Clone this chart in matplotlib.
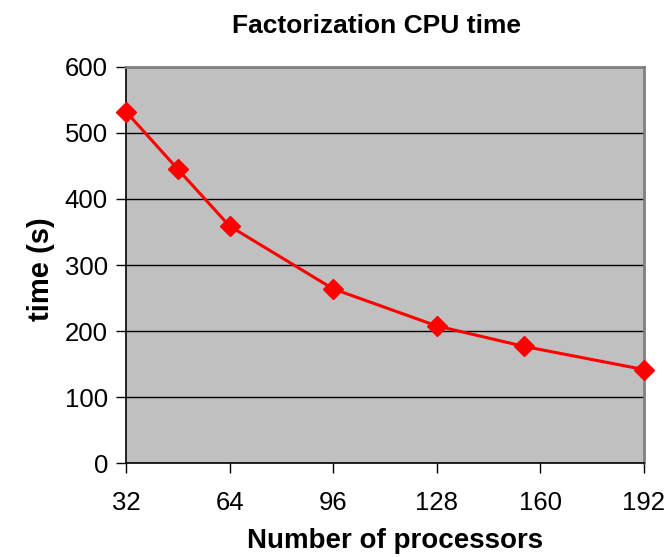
import matplotlib
matplotlib.use("Agg")
import matplotlib.pyplot as plt

plt.rcParams['font.family'] = ['Liberation Sans', 'DejaVu Sans']

# Factorization CPU time versus processor count
processors = [32, 48, 64, 96, 128, 155, 192]
cpu_time = [532, 445, 359, 264, 208, 177, 142]

x_ticks = [32, 64, 96, 128, 160, 192]
y_ticks = [0, 100, 200, 300, 400, 500, 600]

fig = plt.figure(figsize=(6.69, 5.57), dpi=100)
ax = fig.add_axes([0.1883, 0.1679, 0.7743, 0.7124])
ax.set_facecolor('#C0C0C0')

ax.set_xlim(32, 192)
ax.set_ylim(0, 600)
ax.set_xticks(x_ticks)
ax.set_yticks(y_ticks)
ax.yaxis.grid(True, color='black', linewidth=1.0)
ax.set_axisbelow(True)

ax.plot(processors, cpu_time, color='#FF0000', linewidth=2.2,
        marker='D', markersize=10.5, markeredgecolor='#FF0000',
        zorder=4, clip_on=False)

for side in ['top', 'right']:
    ax.spines[side].set_color('#808080')
    ax.spines[side].set_linewidth(2.0)
for side in ['left', 'bottom']:
    ax.spines[side].set_color('black')
    ax.spines[side].set_linewidth(1.2)

ax.tick_params(axis='both', direction='out', length=7, width=1.0,
               color='black', labelsize=18.5, pad=6)
ax.tick_params(axis='x', pad=13)

ax.set_title('Factorization CPU time', fontsize=19, fontweight='bold',
             pad=24, x=0.483)
ax.set_xlabel('Number of processors', fontsize=20, fontweight='bold')
ax.xaxis.set_label_coords(0.519, -0.163)
ax.set_ylabel('time (s)', fontsize=21, fontweight='bold')
ax.yaxis.set_label_coords(-0.137, 0.49)

fig.savefig('out.png', dpi=100)
